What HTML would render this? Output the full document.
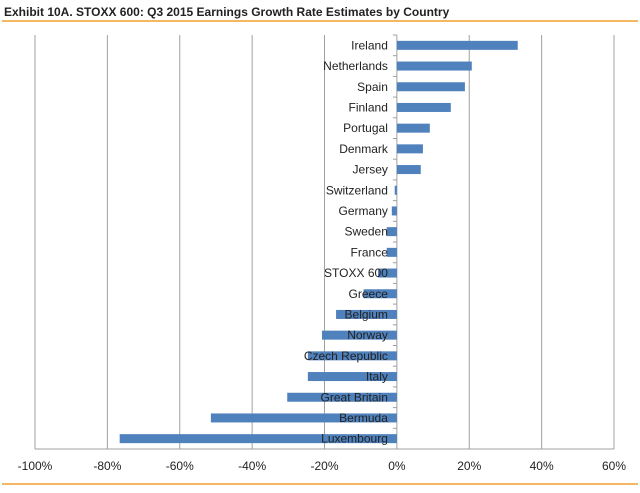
<!DOCTYPE html>
<html><head><meta charset="utf-8"><style>
body{margin:0;background:#fff;font-family:"Liberation Sans",sans-serif;}
svg text{font-family:"Liberation Sans",sans-serif;}
</style></head><body>
<svg width="640" height="488">
<text x="4" y="16" font-size="12" font-weight="bold" fill="#222">Exhibit 10A.  STOXX 600: Q3 2015 Earnings Growth Rate Estimates by Country</text>
<line x1="2" y1="21" x2="638" y2="21" stroke="#f0a030" stroke-width="1.5"/>
<line x1="2" y1="484" x2="638" y2="484" stroke="#f0a030" stroke-width="1.5"/>
<g id="grid"></g><g id="bars"></g><g id="labels"></g><g id="ticks"></g>
</svg>
<script>
const categories=["Ireland","Netherlands","Spain","Finland","Portugal","Denmark","Jersey","Switzerland","Germany","Sweden","France","STOXX 600","Greece","Belgium","Norway","Czech Republic","Italy","Great Britain","Bermuda","Luxembourg"];
const values=[33.4,20.7,18.8,14.9,9.1,7.2,6.6,-0.6,-1.4,-2.8,-2.8,-5.2,-9.2,-16.8,-20.7,-24.6,-24.6,-30.3,-51.4,-76.6];
const tickValues=[-100,-80,-60,-40,-20,0,20,40,60];
const tickLabels=["-100%","-80%","-60%","-40%","-20%","0%","20%","40%","60%"];
const ns="http://www.w3.org/2000/svg";
const x0=35,x1=614,vmin=-100,vmax=60,plotTop=35,plotBottom=449;
function X(v){return x0+(v-vmin)/(vmax-vmin)*(x1-x0);}
const band=(plotBottom-plotTop)/categories.length;
function Y(i){return plotTop+band*i+band/2;}
function mk(tag,attrs,parent){const e=document.createElementNS(ns,tag);for(const k in attrs)e.setAttribute(k,attrs[k]);document.getElementById(parent).appendChild(e);return e;}
tickValues.forEach((v,i)=>{
  if(v!==0){const g=mk("line",{x1:X(v),x2:X(v),y1:plotTop,y2:plotBottom,stroke:"#a0a0a0","stroke-width":1},"grid");
  
  }
  const t=mk("text",{x:X(v),y:470,"text-anchor":"middle","font-size":12,fill:"#222"},"ticks");
  t.textContent=tickLabels[i];
  
  
});
const ax=mk("line",{x1:X(0),x2:X(0),y1:plotTop,y2:plotBottom,stroke:"#a0a0a0","stroke-width":1},"grid");


const xa=mk("line",{x1:x0,x2:x1,y1:plotBottom,y2:plotBottom,stroke:"#a0a0a0","stroke-width":1},"grid");


for(let i=0;i<=categories.length;i++){
  const tk=mk("line",{x1:X(0)-4,x2:X(0),y1:plotTop+band*i,y2:plotTop+band*i,stroke:"#a0a0a0"},"grid");
  
  
}
categories.forEach((c,i)=>{
  const v=values[i];
  const b=mk("rect",{x:Math.min(X(0),X(v)),y:Y(i)-4.5,width:Math.abs(X(v)-X(0)),height:9,fill:"#4f81bd"},"bars");
  
  
  const t=mk("text",{x:X(0)-9,y:Y(i)+4,"text-anchor":"end","font-size":12,fill:"#222"},"labels");
  t.textContent=c;
  
  
});
</script>
</body></html>
